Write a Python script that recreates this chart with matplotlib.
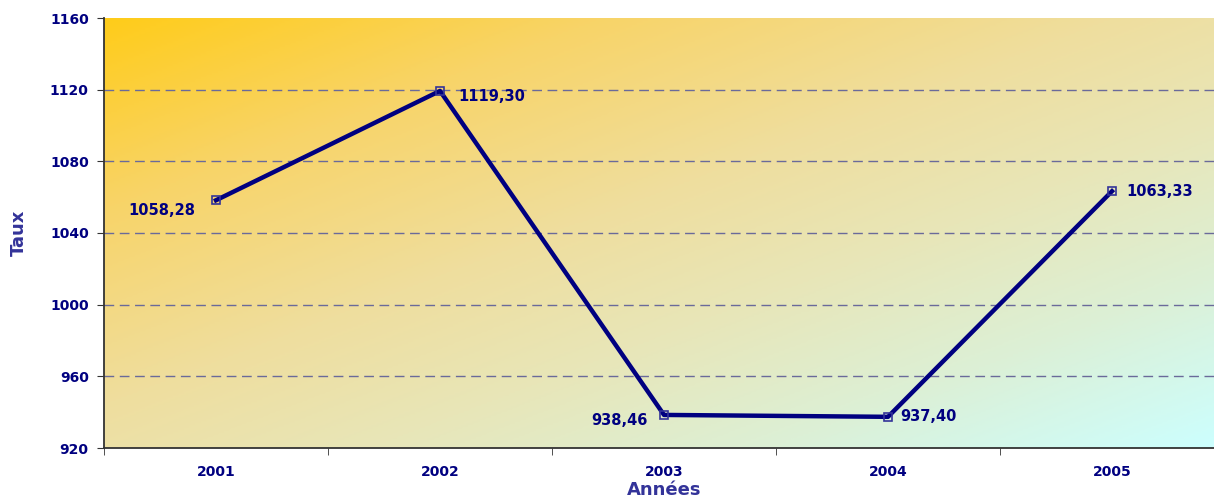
import numpy as np
import matplotlib
matplotlib.use("Agg")
import matplotlib.pyplot as plt
from matplotlib.colors import LinearSegmentedColormap
from matplotlib.transforms import offset_copy

annees = ["2001", "2002", "2003", "2004", "2005"]
taux = [1058.28, 1119.30, 938.46, 937.40, 1063.33]
etiquettes = ["1058,28", "1119,30", "938,46", "937,40", "1063,33"]
y_ticks = [920, 960, 1000, 1040, 1080, 1120, 1160]

navy = "#000080"
slate = "#333399"

plt.rcParams["font.family"] = ["DejaVu Sans"]
fig = plt.figure(figsize=(12.14, 5.0), dpi=100)
W, H = 1214, 500
left, right, top, bottom = 104, 1224, 18, 448
ax = fig.add_axes([left / W, 1 - bottom / H, (right - left) / W, (bottom - top) / H])

# diagonal gradient background: gold top-left to pale cyan bottom-right
cmap = LinearSegmentedColormap.from_list(
    "bg", [(0.0, "#FFCC1A"), (0.22, "#F8D468"), (0.45, "#EFDE9E"),
           (0.62, "#E8E6B8"), (0.8, "#DCF0D6"), (1.0, "#CCFFFF")])
gx, gy = np.meshgrid(np.linspace(0, 1, 400), np.linspace(0, 1, 200))
grad = 0.5 * gx + 0.5 * gy
ax.imshow(grad, cmap=cmap, extent=[-0.5, 4.5, 920, 1160], aspect="auto",
          origin="upper", zorder=0, interpolation="bilinear")

x = np.arange(len(annees))
ax.plot(x, taux, color=navy, lw=3.2, zorder=3)
ax.plot(x, taux, ls="none", marker="s", ms=6, mfc="none", mec=slate, mew=1.2, zorder=4)

ax.set_xlim(-0.5, 4.5)
ax.set_ylim(920, 1160)
ax.set_yticks(y_ticks)
ax.set_yticklabels([str(v) for v in y_ticks], fontsize=10, fontweight="bold", color=navy)
ax.set_xticks(x)
ax.set_xticklabels(annees, fontsize=10, fontweight="bold", color=navy)
ax.set_xticks(np.arange(-0.5, 5, 1), minor=True)
ax.tick_params(axis="x", which="major", length=0, pad=12)
ax.tick_params(axis="x", which="minor", length=5, color="#333333")
ax.tick_params(axis="y", length=5, color="#333333", pad=6)

for v in y_ticks[1:-1]:
    ax.axhline(v, color="#6A6A9A", lw=1.0, ls=(0, (7, 4)), zorder=1)

for s in ["top", "right"]:
    ax.spines[s].set_visible(False)
for s in ["left", "bottom"]:
    ax.spines[s].set_color("#333333")
    ax.spines[s].set_linewidth(1.3)

# label offsets in pixels
offsets = [(-21, -10, "right"), (18, -6, "left"), (-16, -6, "right"),
           (12, 0, "left"), (14, 0, "left")]
for xi, yi, lab, (dx, dy, ha) in zip(x, taux, etiquettes, offsets):
    tr = offset_copy(ax.transData, fig=fig, x=dx, y=dy, units="dots")
    ax.text(xi, yi, lab, transform=tr, ha=ha, va="center", fontsize=10.5,
            fontweight="bold", color=navy, zorder=5)

ax.set_ylabel("Taux", fontsize=13, fontweight="bold", color=slate, labelpad=16)
ax.set_xlabel("Années", fontsize=13, fontweight="bold", color=slate, labelpad=2)

fig.savefig("out.png", dpi=100)
